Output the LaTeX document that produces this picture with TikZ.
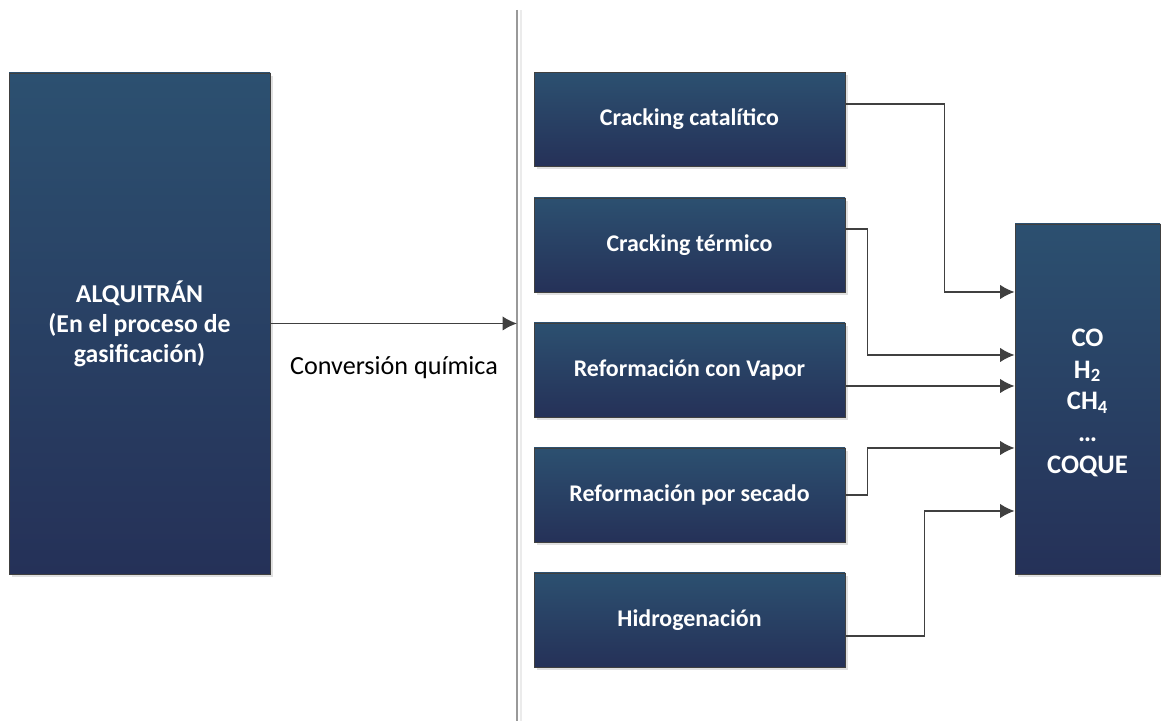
\documentclass[tikz,border=0pt]{standalone}
\usepackage{fontspec}
\setmainfont{Carlito}
\usetikzlibrary{arrows.meta,shadows}
\definecolor{boxtop}{RGB}{44,80,112}
\definecolor{boxbot}{RGB}{37,49,88}
\definecolor{linegray}{RGB}{64,64,64}
\tikzset{
  procbox/.style={draw=linegray, line width=0.6pt, top color=boxtop, bottom color=boxbot,
    text=white, font=\fontsize{17}{21}\selectfont\bfseries, align=center, inner sep=0pt,
    drop shadow={shadow xshift=0.07cm, shadow yshift=-0.07cm, fill=black!12, opacity=1}},
  flow/.style={draw=linegray, line width=1.2pt, -{Latex[length=3.6mm,width=3.6mm]}},
}

\begin{document}
\begin{tikzpicture}
			%%%%% START %%%%%
			\useasboundingbox (0, 0) rectangle (29.025, 18.025);
			
			\coordinate (divtop) at (12.925, 17.775);
			\coordinate (divbot) at (12.925, 0);
			\draw[black!8, line width=1.2pt] ([xshift=0.1cm]divtop) -- ([xshift=0.1cm]divbot);
			\draw[black!40, line width=1.2pt] (divtop) -- (divbot);
			
			\node[procbox, minimum width=6.525cm, minimum height=12.525cm, font=\fontsize{18.3}{21.3}\selectfont\bfseries] (tar) at (3.4875, 9.9375) {ALQUITRÁN\\(En el proceso de\\gasificación)};
			
			\node[procbox, minimum width=7.775cm, minimum height=2.35cm] (cat) at (17.2375, 15.0375) {Cracking catalítico};
			\node[procbox, minimum width=7.775cm, minimum height=2.35cm] (term) at (17.2375, 11.9) {Cracking térmico};
			\node[procbox, minimum width=7.775cm, minimum height=2.35cm] (vap) at (17.2375, 8.775) {Reformación con Vapor};
			\node[procbox, minimum width=7.775cm, minimum height=2.35cm] (sec) at (17.2375, 5.65) {Reformación por secado};
			\node[procbox, minimum width=7.775cm, minimum height=2.35cm] (hid) at (17.2375, 2.525) {Hidrogenación};
			
			\node[procbox, minimum width=3.625cm, minimum height=8.75cm, font=\fontsize{19}{22.7}\selectfont\bfseries] (prod) at (27.1875, 8.05) {\rule{0pt}{0.63cm}CO\\H\textsubscript{2}\\CH\textsubscript{4}\\…\\COQUE};
			
			\draw[flow] (tar.east) -- (tar.east -| divtop);
			\node[font=\fontsize{18.6}{22}\selectfont] (convlbl) at (9.85, 8.825) {Conversión química};
			
			\draw[flow] ([yshift=0.39cm]cat.east) -- ++(2.475, 0) |- ([yshift=2.675cm]prod.west);
			\draw[flow] ([yshift=0.4cm]term.east) -- ++(0.55, 0) |- ([yshift=1.1cm]prod.west);
			\draw[flow] ([yshift=-0.4cm]vap.east) -- ([yshift=0.325cm]prod.west);
			\draw[flow] (sec.east) -- ++(0.55, 0) |- ([yshift=-1.225cm]prod.west);
			\draw[flow] ([yshift=-0.4cm]hid.east) -- ++(1.975, 0) |- ([yshift=-2.8cm]prod.west);
			
			%%%%% END %%%%%
\end{tikzpicture}
\end{document}
